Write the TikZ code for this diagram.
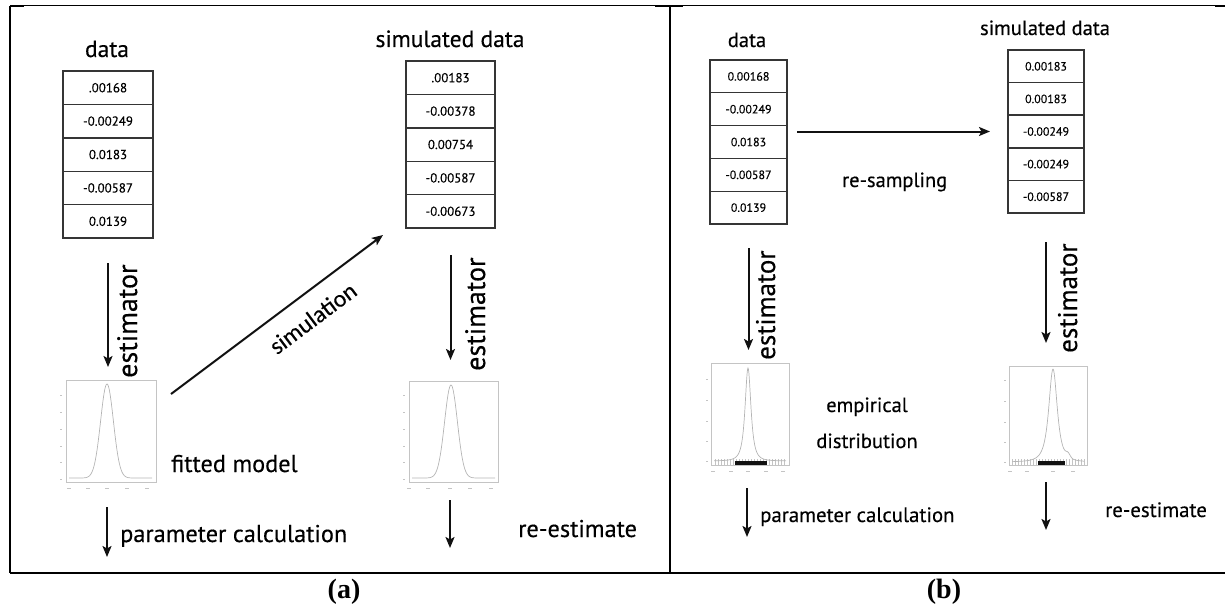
\documentclass[tikz,border=0pt]{standalone}
\usepackage{fontspec}
\usetikzlibrary{arrows.meta,positioning,calc}
\setmainfont{Liberation Serif}
\newfontfamily\labelfont[FakeBold=0.35]{PT Sans}
\newfontfamily\simfont[FakeBold=0.2]{Carlito}
\definecolor{ink}{HTML}{111111}
\definecolor{plotgray}{HTML}{C4C4C4}
\definecolor{curvegray}{HTML}{B4B4B4}
\tikzset{
cell/.style={draw=ink!85,line width=1.4pt,outer sep=0pt,inner sep=0pt,minimum width=90pt,minimum height=33.4pt,font=\labelfont\fontsize{13}{13}\selectfont},
cellb/.style={cell,minimum width=77pt,minimum height=32.8pt,font=\labelfont\fontsize{12}{12}\selectfont},
title/.style={font=\labelfont\fontsize{#1}{#1}\selectfont,inner sep=0pt,anchor=base},
title/.default=23.5,
note/.style={title=#1,anchor=base west},
note/.default=24.3,
vnote/.style={title=#1,rotate=90,anchor=base west},
vnote/.default=28,
flow/.style={-{Stealth[length=11pt,width=9pt,inset=2.5pt]},line width=2pt,draw=ink},
plotframe/.style={draw=plotgray,line width=.7pt,inner sep=0pt,outer sep=0pt},
densityline/.style={draw=curvegray,line width=.7pt},
tickmark/.style={draw=plotgray,line width=.5pt},
rug/.style={draw=ink,line width=4pt},
rulerline/.style={draw=black,line width=2pt},
sub/.style={font=\bfseries\fontsize{28}{28}\selectfont,inner sep=0pt,anchor=base}}

\begin{document}
\begin{tikzpicture}[x=1pt,y=-1pt]
\useasboundingbox (0,0) rectangle (1225,607);
% frame
\draw[line width=1pt] (10,6)--(1225,6);
\draw[rulerline] (10,6.5)--(24,6.5);
\draw[rulerline] (655,6.5)--(683,6.5);
\draw[rulerline] (1215,6.5)--(1225,6.5);
\draw[rulerline] (10,6)--(10,573);
\draw[rulerline] (670,6)--(670,573);
\draw[rulerline] (10,573)--(1225,573);
\node[sub] (capA) at (344,598) {(a)};
\node[sub] (capB) at (944,598) {(b)};
% panel (a)
\node[title] (dataA) at (107,57) {data};
\node[cell] (dA1) at (108,87.7) {.00168};
\node[cell,below=0pt of dA1] (dA2) {-0.00249};
\node[cell,below=0pt of dA2] (dA3) {0.0183};
\node[cell,below=0pt of dA3] (dA4) {-0.00587};
\node[cell,below=0pt of dA4] (dA5) {0.0139};
\node[title] (simdataA) at (450,47) {simulated data};
\node[cell,minimum width=89pt] (sA1) at (450.5,77.7) {.00183};
\node[cell,minimum width=89pt,below=0pt of sA1] (sA2) {-0.00378};
\node[cell,minimum width=89pt,below=0pt of sA2] (sA3) {0.00754};
\node[cell,minimum width=89pt,below=0pt of sA3] (sA4) {-0.00587};
\node[cell,minimum width=89pt,below=0pt of sA4] (sA5) {-0.00673};
\node[plotframe,minimum width=90pt,minimum height=102pt] (plotA1) at (111,431) {};
\node[plotframe,minimum width=89pt,minimum height=101pt] (plotA2) at (453.5,431.5) {};
\draw[densityline] plot[domain=69:152,samples=140] (\x,{478-94*exp(-0.5*((\x-107)/6.4)^2)});
\draw[densityline] plot[domain=412:495,samples=140] (\x,{478-93*exp(-0.5*((\x-451)/6.4)^2)});
\foreach \t in {395,412,429,446,462,479} {\draw[tickmark] (60,\t)--(62,\t); \draw[tickmark] (403,\t)--(405,\t);}
\foreach \t in {69,88,107,127,147} \draw[tickmark] (\t-2,488)--(\t+2,488);
\foreach \t in {409,428,450,470,491} \draw[tickmark] (\t-2,488)--(\t+2,488);
\node[vnote] (estA1) at (137,378) {estimator};
\node[vnote] (estA2) at (485,371) {estimator};
\node[note] (fitted) at (171,472) {fitted model};
\node[note] (reestA) at (518,537) {re-estimate};
\node[note] (paramA) at (120,542) {parameter calculation};
\coordinate (endA1) at (107,557);
\coordinate (endA2) at (450,548);
\draw[flow,shorten <=25pt,shorten >=13pt] (dA5.south)--(dA5.south |- plotA1.north);
\draw[flow,shorten <=27pt,shorten >=21pt] (sA5.south)--(sA5.south |- plotA2.north);
\draw[flow,shorten <=25pt] (plotA1.south -| endA1)--(endA1);
\draw[flow,shorten <=18pt] (plotA2.south -| endA2)--(endA2);
\draw[flow] ($(plotA1.north east)+(15,14)$)--($(sA5.south west)+(-23,7)$)
  node[pos=.6,sloped,below,inner xsep=0pt,inner ysep=15pt,font=\simfont\fontsize{24}{24}\selectfont] (simlabel) {simulation};
% panel (b)
\node[title=20.5] (dataB) at (747,47) {data};
\node[cellb] (dB1) at (748.5,76.4) {0.00168};
\node[cellb,below=0pt of dB1] (dB2) {-0.00249};
\node[cellb,below=0pt of dB2] (dB3) {0.0183};
\node[cellb,below=0pt of dB3] (dB4) {-0.00587};
\node[cellb,below=0pt of dB4] (dB5) {0.0139};
\node[title=20.5] (simdataB) at (1045,35) {simulated data};
\node[cellb,minimum width=76pt,minimum height=32.6pt] (sB1) at (1046,66.3) {0.00183};
\node[cellb,minimum width=76pt,minimum height=32.6pt,below=0pt of sB1] (sB2) {0.00183};
\node[cellb,minimum width=76pt,minimum height=32.6pt,below=0pt of sB2] (sB3) {-0.00249};
\node[cellb,minimum width=76pt,minimum height=32.6pt,below=0pt of sB3] (sB4) {-0.00249};
\node[cellb,minimum width=76pt,minimum height=32.6pt,below=0pt of sB4] (sB5) {-0.00587};
\node[plotframe,minimum width=78pt,minimum height=102pt] (plotB1) at (750,414) {};
\node[plotframe,minimum width=78pt,minimum height=99pt] (plotB2) at (1048,415.5) {};
\foreach \t in {715,718,...,786} \draw[tickmark] (\t,459)--(\t,466);
\foreach \t in {1012,1015,...,1084} \draw[tickmark] (\t,459)--(\t,466);
\draw[densityline] plot[domain=714:786,samples=160] (\x,{461-93/(1+((\x-748)/4.5)^2)^1.5});
\draw[densityline] plot[domain=1012:1084,samples=160] (\x,{462-93/(1+((\x-1053)/6.5)^2)^1.5-4*exp(-((\x-1068)/3)^2)});
\draw[rug] (735,463)--(767,463);
\draw[rug] (1038,463)--(1065,463);
\foreach \t in {379,400,421,441,461} {\draw[tickmark] (706,\t)--(708,\t); \draw[tickmark] (1004,\t+1)--(1006,\t+1);}
\foreach \t in {713,731,748,766,783} \draw[tickmark] (\t-2,471)--(\t+2,471);
\foreach \t in {1010,1027,1053,1073} \draw[tickmark] (\t-2,471)--(\t+2,471);
\node[vnote=27] (estB1) at (775,360) {estimator};
\node[vnote=27] (estB2) at (1077,353) {estimator};
\node[note=20.5] (resamp) at (842,187) {re-sampling};
\node[title=20.5] (empir) at (867,412) {empirical};
\node[title=20.5] (distr) at (867,448) {distribution};
\node[note=20.8] (paramB) at (760,522) {parameter calculation};
\node[note=20.8] (reestB) at (1105,517) {re-estimate};
\coordinate (endB1) at (747,537);
\coordinate (endB2) at (1046,530);
\draw[flow,shorten <=24pt,shorten >=13pt] (dB5.south)--(dB5.south |- plotB1.north);
\draw[flow,shorten <=29pt,shorten >=23pt] (sB5.south)--(sB5.south |- plotB2.north);
\draw[flow,shorten <=23pt] (plotB1.south -| endB1)--(endB1);
\draw[flow,shorten <=17pt] (plotB2.south -| endB2)--(endB2);
\draw[flow,shorten <=10pt,shorten >=18pt] (dB3.east |- sB3.west)--(sB3.west);
\end{tikzpicture}
\end{document}
